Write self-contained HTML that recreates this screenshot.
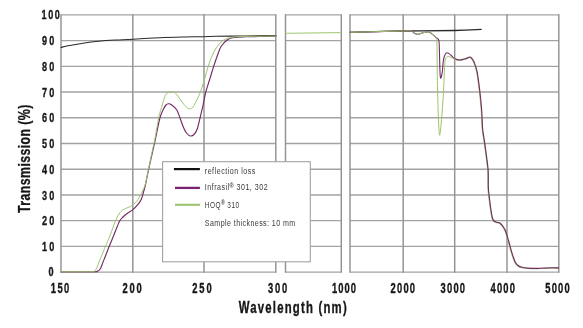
<!DOCTYPE html>
<html><head><meta charset="utf-8"><style>
html,body{margin:0;padding:0;background:#fff;}
svg{display:block;font-family:"Liberation Sans",sans-serif;will-change:transform;}
</style></head><body>
<svg width="583" height="328" viewBox="0 0 583 328">
<rect width="583" height="328" fill="#fff"/>
<line x1="61.00" y1="14.80" x2="275.80" y2="14.80" stroke="#a3a3a3" stroke-width="1.30"/>
<line x1="61.00" y1="40.54" x2="275.80" y2="40.54" stroke="#a3a3a3" stroke-width="1.30"/>
<line x1="61.00" y1="66.28" x2="275.80" y2="66.28" stroke="#a3a3a3" stroke-width="1.30"/>
<line x1="61.00" y1="92.02" x2="275.80" y2="92.02" stroke="#a3a3a3" stroke-width="1.30"/>
<line x1="61.00" y1="117.76" x2="275.80" y2="117.76" stroke="#a3a3a3" stroke-width="1.30"/>
<line x1="61.00" y1="143.50" x2="275.80" y2="143.50" stroke="#a3a3a3" stroke-width="1.30"/>
<line x1="61.00" y1="169.24" x2="275.80" y2="169.24" stroke="#a3a3a3" stroke-width="1.30"/>
<line x1="61.00" y1="194.98" x2="275.80" y2="194.98" stroke="#a3a3a3" stroke-width="1.30"/>
<line x1="61.00" y1="220.72" x2="275.80" y2="220.72" stroke="#a3a3a3" stroke-width="1.30"/>
<line x1="61.00" y1="246.46" x2="275.80" y2="246.46" stroke="#a3a3a3" stroke-width="1.30"/>
<line x1="61.00" y1="272.20" x2="275.80" y2="272.20" stroke="#a3a3a3" stroke-width="1.30"/>
<line x1="61.00" y1="14.20" x2="61.00" y2="272.80" stroke="#929292" stroke-width="1.45"/>
<line x1="132.80" y1="14.20" x2="132.80" y2="272.80" stroke="#929292" stroke-width="1.45"/>
<line x1="204.00" y1="14.20" x2="204.00" y2="272.80" stroke="#929292" stroke-width="1.45"/>
<line x1="275.80" y1="14.20" x2="275.80" y2="272.80" stroke="#929292" stroke-width="1.45"/>
<line x1="285.50" y1="14.80" x2="341.30" y2="14.80" stroke="#a3a3a3" stroke-width="1.30"/>
<line x1="285.50" y1="40.54" x2="341.30" y2="40.54" stroke="#a3a3a3" stroke-width="1.30"/>
<line x1="285.50" y1="66.28" x2="341.30" y2="66.28" stroke="#a3a3a3" stroke-width="1.30"/>
<line x1="285.50" y1="92.02" x2="341.30" y2="92.02" stroke="#a3a3a3" stroke-width="1.30"/>
<line x1="285.50" y1="117.76" x2="341.30" y2="117.76" stroke="#a3a3a3" stroke-width="1.30"/>
<line x1="285.50" y1="143.50" x2="341.30" y2="143.50" stroke="#a3a3a3" stroke-width="1.30"/>
<line x1="285.50" y1="169.24" x2="341.30" y2="169.24" stroke="#a3a3a3" stroke-width="1.30"/>
<line x1="285.50" y1="194.98" x2="341.30" y2="194.98" stroke="#a3a3a3" stroke-width="1.30"/>
<line x1="285.50" y1="220.72" x2="341.30" y2="220.72" stroke="#a3a3a3" stroke-width="1.30"/>
<line x1="285.50" y1="246.46" x2="341.30" y2="246.46" stroke="#a3a3a3" stroke-width="1.30"/>
<line x1="285.50" y1="272.20" x2="341.30" y2="272.20" stroke="#a3a3a3" stroke-width="1.30"/>
<line x1="285.50" y1="14.20" x2="285.50" y2="272.80" stroke="#929292" stroke-width="1.45"/>
<line x1="341.30" y1="14.20" x2="341.30" y2="272.80" stroke="#929292" stroke-width="1.45"/>
<line x1="350.00" y1="14.80" x2="558.80" y2="14.80" stroke="#a3a3a3" stroke-width="1.30"/>
<line x1="350.00" y1="40.54" x2="558.80" y2="40.54" stroke="#a3a3a3" stroke-width="1.30"/>
<line x1="350.00" y1="66.28" x2="558.80" y2="66.28" stroke="#a3a3a3" stroke-width="1.30"/>
<line x1="350.00" y1="92.02" x2="558.80" y2="92.02" stroke="#a3a3a3" stroke-width="1.30"/>
<line x1="350.00" y1="117.76" x2="558.80" y2="117.76" stroke="#a3a3a3" stroke-width="1.30"/>
<line x1="350.00" y1="143.50" x2="558.80" y2="143.50" stroke="#a3a3a3" stroke-width="1.30"/>
<line x1="350.00" y1="169.24" x2="558.80" y2="169.24" stroke="#a3a3a3" stroke-width="1.30"/>
<line x1="350.00" y1="194.98" x2="558.80" y2="194.98" stroke="#a3a3a3" stroke-width="1.30"/>
<line x1="350.00" y1="220.72" x2="558.80" y2="220.72" stroke="#a3a3a3" stroke-width="1.30"/>
<line x1="350.00" y1="246.46" x2="558.80" y2="246.46" stroke="#a3a3a3" stroke-width="1.30"/>
<line x1="350.00" y1="272.20" x2="558.80" y2="272.20" stroke="#a3a3a3" stroke-width="1.30"/>
<line x1="350.00" y1="14.20" x2="350.00" y2="272.80" stroke="#929292" stroke-width="1.45"/>
<line x1="403.20" y1="14.20" x2="403.20" y2="272.80" stroke="#929292" stroke-width="1.45"/>
<line x1="454.70" y1="14.20" x2="454.70" y2="272.80" stroke="#929292" stroke-width="1.45"/>
<line x1="507.00" y1="14.20" x2="507.00" y2="272.80" stroke="#929292" stroke-width="1.45"/>
<line x1="558.80" y1="14.20" x2="558.80" y2="272.80" stroke="#929292" stroke-width="1.45"/>
<path d="M61.00,47.40 C62.17,47.13 65.57,46.30 68.00,45.80 C70.43,45.30 72.60,44.92 75.60,44.40 C78.60,43.88 82.60,43.20 86.00,42.70 C89.40,42.20 92.67,41.77 96.00,41.40 C99.33,41.03 102.55,40.75 106.00,40.50 C109.45,40.25 112.20,40.12 116.70,39.90 C121.20,39.68 125.78,39.57 133.00,39.20 C140.22,38.83 151.83,38.07 160.00,37.70 C168.17,37.33 174.67,37.17 182.00,37.00 C189.33,36.83 198.33,36.82 204.00,36.70 C209.67,36.58 209.17,36.42 216.00,36.30 C222.83,36.18 236.83,36.12 245.00,36.00 C253.17,35.88 259.87,35.70 265.00,35.60 C270.13,35.50 274.00,35.43 275.80,35.40" fill="none" stroke="#2a2a2a" stroke-width="1.05" stroke-linejoin="round" stroke-linecap="round"/>
<path d="M350.00,32.30 C358.83,32.08 385.55,31.30 403.00,31.00 C420.45,30.70 441.67,30.78 454.70,30.50 C467.73,30.22 476.78,29.50 481.20,29.30" fill="none" stroke="#2a2a2a" stroke-width="1.30" stroke-linejoin="round" stroke-linecap="round"/>
<path d="M61.00,271.80 C66.50,271.80 88.07,271.85 94.00,271.80 C99.93,271.75 95.57,271.97 96.60,271.50 C97.63,271.03 99.08,270.68 100.20,269.00 C101.32,267.32 102.03,264.57 103.30,261.40 C104.57,258.23 106.85,252.45 107.80,250.00 C108.75,247.55 107.98,249.20 109.00,246.70 C110.02,244.20 112.17,239.20 113.90,235.00 C115.63,230.80 117.88,224.50 119.40,221.50 C120.92,218.50 121.73,218.30 123.00,217.00 C124.27,215.70 125.40,214.88 127.00,213.70 C128.60,212.52 130.77,211.47 132.60,209.90 C134.43,208.33 136.57,206.03 138.00,204.30 C139.43,202.57 140.30,201.47 141.20,199.50 C142.10,197.53 142.68,195.00 143.40,192.50 C144.12,190.00 144.62,188.42 145.50,184.50 C146.38,180.58 147.08,176.42 148.70,169.00 C150.32,161.58 153.32,148.57 155.20,140.00 C157.08,131.43 158.63,122.72 160.00,117.60 C161.37,112.48 162.40,111.40 163.40,109.30 C164.40,107.20 165.17,105.92 166.00,105.00 C166.83,104.08 167.57,103.88 168.40,103.80 C169.23,103.72 169.60,103.45 171.00,104.50 C172.40,105.55 174.72,106.27 176.80,110.10 C178.88,113.93 181.88,123.68 183.50,127.50 C185.12,131.32 185.35,131.58 186.50,133.00 C187.65,134.42 189.07,135.83 190.40,136.00 C191.73,136.17 193.33,135.25 194.50,134.00 C195.67,132.75 196.40,131.50 197.40,128.50 C198.40,125.50 199.55,119.92 200.50,116.00 C201.45,112.08 202.23,108.95 203.10,105.00 C203.97,101.05 204.58,96.63 205.70,92.30 C206.82,87.97 208.48,83.28 209.80,79.00 C211.12,74.72 212.33,70.52 213.60,66.60 C214.87,62.68 216.13,58.88 217.40,55.50 C218.67,52.12 219.52,48.93 221.20,46.30 C222.88,43.67 225.37,41.17 227.50,39.70 C229.63,38.23 231.08,37.98 234.00,37.50 C236.92,37.02 238.03,37.02 245.00,36.80 C251.97,36.58 270.67,36.30 275.80,36.20" fill="none" stroke="#742a64" stroke-width="1.15" stroke-linejoin="round" stroke-linecap="round"/>
<path d="M61.00,271.80 C66.00,271.80 85.58,271.85 91.00,271.80 C96.42,271.75 92.60,272.03 93.50,271.50 C94.40,270.97 95.28,270.63 96.40,268.60 C97.52,266.57 98.93,262.40 100.20,259.30 C101.47,256.20 103.15,252.10 104.00,250.00 C104.85,247.90 104.27,249.20 105.30,246.70 C106.33,244.20 108.53,239.20 110.20,235.00 C111.87,230.80 113.83,225.00 115.30,221.50 C116.77,218.00 117.75,215.93 119.00,214.00 C120.25,212.07 121.30,210.98 122.80,209.90 C124.30,208.82 126.37,208.30 128.00,207.50 C129.63,206.70 130.93,206.42 132.60,205.10 C134.27,203.78 136.27,202.13 138.00,199.60 C139.73,197.07 141.77,192.50 143.00,189.90 C144.23,187.30 144.50,187.40 145.40,184.00 C146.30,180.60 147.22,175.17 148.40,169.50 C149.58,163.83 151.40,155.17 152.50,150.00 C153.60,144.83 153.97,143.90 155.00,138.50 C156.03,133.10 157.50,123.18 158.70,117.60 C159.90,112.02 161.18,108.47 162.20,105.00 C163.22,101.53 164.00,98.80 164.80,96.80 C165.60,94.80 166.07,93.78 167.00,93.00 C167.93,92.22 169.20,92.22 170.40,92.10 C171.60,91.98 173.10,91.83 174.20,92.30 C175.30,92.77 176.02,93.75 177.00,94.90 C177.98,96.05 178.93,97.60 180.10,99.20 C181.27,100.80 182.73,103.00 184.00,104.50 C185.27,106.00 186.70,107.48 187.70,108.20 C188.70,108.92 189.12,109.00 190.00,108.80 C190.88,108.60 191.83,108.55 193.00,107.00 C194.17,105.45 195.78,101.95 197.00,99.50 C198.22,97.05 199.13,95.38 200.30,92.30 C201.47,89.22 202.68,85.28 204.00,81.00 C205.32,76.72 206.87,70.77 208.20,66.60 C209.53,62.43 210.63,59.13 212.00,56.00 C213.37,52.87 214.60,50.37 216.40,47.80 C218.20,45.23 220.48,42.30 222.80,40.60 C225.12,38.90 227.43,38.27 230.30,37.60 C233.17,36.93 235.05,36.83 240.00,36.60 C244.95,36.37 254.03,36.30 260.00,36.20 C265.97,36.10 273.17,36.03 275.80,36.00" fill="none" stroke="#9cc46e" stroke-width="1.00" stroke-linejoin="round" stroke-linecap="round"/>
<path d="M285.50,33.30 C294.80,33.18 332.00,32.72 341.30,32.60" fill="none" stroke="#9cc46e" stroke-width="1.00" stroke-linejoin="round" stroke-linecap="round"/>
<path d="M454.05,58.90 C454.87,59.15 457.12,60.35 458.95,60.40 C460.78,60.45 463.32,59.70 465.05,59.20 C466.78,58.70 468.27,57.45 469.35,57.40 C470.43,57.35 470.85,58.10 471.55,58.90 C472.25,59.70 472.70,60.02 473.55,62.20 C474.40,64.38 475.72,67.42 476.65,72.00 C477.58,76.58 478.40,83.50 479.15,89.70 C479.90,95.90 480.65,102.70 481.15,109.20 C481.65,115.70 481.75,123.83 482.15,128.70 C482.55,133.57 482.93,134.03 483.55,138.40 C484.17,142.77 485.15,149.40 485.85,154.90 C486.55,160.40 487.40,165.82 487.75,171.40 C488.10,176.98 487.68,183.40 487.95,188.40 C488.22,193.40 488.87,197.40 489.35,201.40 C489.83,205.40 490.40,209.57 490.85,212.40 C491.30,215.23 491.60,216.90 492.05,218.40 C492.50,219.90 492.80,220.70 493.55,221.40 C494.30,222.10 495.52,222.23 496.55,222.60 C497.58,222.97 498.75,222.92 499.75,223.60 C500.75,224.28 501.63,225.37 502.55,226.70 C503.47,228.03 504.33,229.23 505.25,231.60 C506.17,233.97 507.13,237.70 508.05,240.90 C508.97,244.10 509.92,247.97 510.75,250.80 C511.58,253.63 512.33,255.88 513.05,257.90 C513.77,259.92 514.22,261.52 515.05,262.90 C515.88,264.28 516.93,265.40 518.05,266.20 C519.17,267.00 520.17,267.32 521.75,267.70 C523.33,268.08 525.27,268.32 527.55,268.50 C529.83,268.68 532.78,268.82 535.45,268.80 C538.12,268.78 540.80,268.52 543.55,268.40 C546.30,268.28 549.52,268.12 551.95,268.10 C554.38,268.08 557.12,268.27 558.15,268.30" fill="none" stroke="#9cc46e" stroke-width="1.10" stroke-linejoin="round" stroke-linecap="round"/>
<path d="M350.00,32.30 C358.83,32.08 392.80,31.23 403.00,31.00 C413.20,30.77 409.45,30.65 411.20,30.90 C412.95,31.15 412.78,32.02 413.50,32.50 C414.22,32.98 414.75,33.50 415.50,33.80 C416.25,34.10 416.92,34.43 418.00,34.30 C419.08,34.17 420.67,33.35 422.00,33.00 C423.33,32.65 424.78,32.37 426.00,32.20 C427.22,32.03 428.38,31.77 429.30,32.00 C430.22,32.23 430.72,33.00 431.50,33.60 C432.28,34.20 433.08,34.83 434.00,35.60 C434.92,36.37 436.20,37.43 437.00,38.20 C437.80,38.97 438.42,38.90 438.80,40.20 C439.18,41.50 439.17,43.03 439.30,46.00 C439.43,48.97 439.48,53.67 439.60,58.00 C439.72,62.33 439.85,68.67 440.00,72.00 C440.15,75.33 440.25,77.33 440.50,78.00 C440.75,78.67 441.20,77.00 441.50,76.00 C441.80,75.00 442.02,74.33 442.30,72.00 C442.58,69.67 442.87,64.58 443.20,62.00 C443.53,59.42 443.88,57.92 444.30,56.50 C444.72,55.08 445.22,54.13 445.70,53.50 C446.18,52.87 446.65,52.68 447.20,52.70 C447.75,52.72 448.38,53.20 449.00,53.60 C449.62,54.00 449.98,54.28 450.90,55.10 C451.82,55.92 453.08,57.68 454.50,58.50 C455.92,59.32 457.57,59.95 459.40,60.00 C461.23,60.05 463.77,59.30 465.50,58.80 C467.23,58.30 468.72,57.05 469.80,57.00 C470.88,56.95 471.30,57.70 472.00,58.50 C472.70,59.30 473.15,59.62 474.00,61.80 C474.85,63.98 476.17,67.02 477.10,71.60 C478.03,76.18 478.85,83.10 479.60,89.30 C480.35,95.50 481.10,102.30 481.60,108.80 C482.10,115.30 482.20,123.43 482.60,128.30 C483.00,133.17 483.38,133.63 484.00,138.00 C484.62,142.37 485.60,149.00 486.30,154.50 C487.00,160.00 487.85,165.42 488.20,171.00 C488.55,176.58 488.13,183.00 488.40,188.00 C488.67,193.00 489.32,197.00 489.80,201.00 C490.28,205.00 490.85,209.17 491.30,212.00 C491.75,214.83 492.05,216.50 492.50,218.00 C492.95,219.50 493.25,220.30 494.00,221.00 C494.75,221.70 495.97,221.83 497.00,222.20 C498.03,222.57 499.20,222.52 500.20,223.20 C501.20,223.88 502.08,224.97 503.00,226.30 C503.92,227.63 504.78,228.83 505.70,231.20 C506.62,233.57 507.58,237.30 508.50,240.50 C509.42,243.70 510.37,247.57 511.20,250.40 C512.03,253.23 512.78,255.48 513.50,257.50 C514.22,259.52 514.67,261.12 515.50,262.50 C516.33,263.88 517.38,265.00 518.50,265.80 C519.62,266.60 520.62,266.92 522.20,267.30 C523.78,267.68 525.72,267.92 528.00,268.10 C530.28,268.28 533.23,268.42 535.90,268.40 C538.57,268.38 541.25,268.12 544.00,268.00 C546.75,267.88 549.97,267.72 552.40,267.70 C554.83,267.68 557.57,267.87 558.60,267.90" fill="none" stroke="#742a64" stroke-width="1.10" stroke-linejoin="round" stroke-linecap="round"/>
<path d="M350.00,32.30 C358.83,32.08 392.80,31.23 403.00,31.00 C413.20,30.77 409.45,30.65 411.20,30.90 C412.95,31.15 412.78,32.02 413.50,32.50 C414.22,32.98 414.75,33.50 415.50,33.80 C416.25,34.10 416.92,34.43 418.00,34.30 C419.08,34.17 420.67,33.35 422.00,33.00 C423.33,32.65 424.78,32.37 426.00,32.20 C427.22,32.03 428.38,31.77 429.30,32.00 C430.22,32.23 430.72,33.00 431.50,33.60 C432.28,34.20 433.22,34.93 434.00,35.60 C434.78,36.27 435.72,36.53 436.20,37.60 C436.68,38.67 436.73,36.60 436.90,42.00 C437.07,47.40 437.08,62.00 437.20,70.00 C437.32,78.00 437.45,83.33 437.60,90.00 C437.75,96.67 437.92,104.17 438.10,110.00 C438.28,115.83 438.47,120.80 438.70,125.00 C438.93,129.20 439.18,134.53 439.50,135.20 C439.82,135.87 440.22,132.20 440.60,129.00 C440.98,125.80 441.42,120.50 441.80,116.00 C442.18,111.50 442.58,106.67 442.90,102.00 C443.22,97.33 443.48,92.50 443.70,88.00 C443.92,83.50 444.05,78.67 444.20,75.00 C444.35,71.33 444.42,68.50 444.60,66.00 C444.78,63.50 445.00,61.45 445.30,60.00 C445.60,58.55 445.92,57.90 446.40,57.30 C446.88,56.70 447.43,56.40 448.20,56.40 C448.97,56.40 450.15,56.93 451.00,57.30 C451.85,57.67 452.63,58.28 453.30,58.60 C453.97,58.92 454.72,59.10 455.00,59.20" fill="none" stroke="#9cc46e" stroke-width="1.00" stroke-linejoin="round" stroke-linecap="round"/>
<rect x="162.60" y="161.70" width="147.70" height="100.10" fill="#fff" stroke="#a3a3a3" stroke-width="1.1"/>
<line x1="173.90" y1="169.10" x2="199.90" y2="169.10" stroke="#111" stroke-width="2.20"/>
<line x1="175.00" y1="187.90" x2="199.90" y2="187.90" stroke="#7c2270" stroke-width="2.30"/>
<line x1="175.00" y1="204.80" x2="199.90" y2="204.80" stroke="#9cc46e" stroke-width="2.10"/>
<text transform="translate(204.80,173.80) scale(0.740,1)" x="0" y="0" font-size="9.60" font-weight="normal" fill="#3a3a3a" textLength="68.24" lengthAdjust="spacing">reflection loss</text>
<text transform="translate(204.80,190.40) scale(0.740,1)" x="0" y="0" font-size="9.60" font-weight="normal" fill="#3a3a3a" textLength="84.86" lengthAdjust="spacing">Infrasil<tspan font-size="7.5" font-weight="bold" dy="-2.6">®</tspan><tspan dy="2.6"> 301, 302</tspan></text>
<text transform="translate(204.80,207.90) scale(0.680,1)" x="0" y="0" font-size="9.60" font-weight="normal" fill="#3a3a3a" textLength="50.44" lengthAdjust="spacing">HOQ<tspan font-size="7.5" font-weight="bold" dy="-3">®</tspan><tspan dy="3"> 310</tspan></text>
<text transform="translate(204.80,226.30) scale(0.740,1)" x="0" y="0" font-size="9.60" font-weight="normal" fill="#3a3a3a" textLength="122.16" lengthAdjust="spacing">Sample thickness: 10 mm</text>
<text transform="translate(41.60,19.40) scale(0.680,1)" x="0" y="0" font-size="13.40" font-weight="bold" fill="#161616" stroke="#161616" stroke-width="0.35" textLength="26.91" lengthAdjust="spacing">100</text>
<text transform="translate(41.90,45.14) scale(0.680,1)" x="0" y="0" font-size="13.40" font-weight="bold" fill="#161616" stroke="#161616" stroke-width="0.35" textLength="18.38" lengthAdjust="spacing">90</text>
<text transform="translate(41.90,70.88) scale(0.680,1)" x="0" y="0" font-size="13.40" font-weight="bold" fill="#161616" stroke="#161616" stroke-width="0.35" textLength="18.38" lengthAdjust="spacing">80</text>
<text transform="translate(41.90,96.62) scale(0.680,1)" x="0" y="0" font-size="13.40" font-weight="bold" fill="#161616" stroke="#161616" stroke-width="0.35" textLength="18.38" lengthAdjust="spacing">70</text>
<text transform="translate(41.90,122.36) scale(0.680,1)" x="0" y="0" font-size="13.40" font-weight="bold" fill="#161616" stroke="#161616" stroke-width="0.35" textLength="18.38" lengthAdjust="spacing">60</text>
<text transform="translate(41.90,148.10) scale(0.680,1)" x="0" y="0" font-size="13.40" font-weight="bold" fill="#161616" stroke="#161616" stroke-width="0.35" textLength="18.38" lengthAdjust="spacing">50</text>
<text transform="translate(41.90,173.84) scale(0.680,1)" x="0" y="0" font-size="13.40" font-weight="bold" fill="#161616" stroke="#161616" stroke-width="0.35" textLength="18.38" lengthAdjust="spacing">40</text>
<text transform="translate(41.90,199.58) scale(0.680,1)" x="0" y="0" font-size="13.40" font-weight="bold" fill="#161616" stroke="#161616" stroke-width="0.35" textLength="18.38" lengthAdjust="spacing">30</text>
<text transform="translate(41.90,225.32) scale(0.680,1)" x="0" y="0" font-size="13.40" font-weight="bold" fill="#161616" stroke="#161616" stroke-width="0.35" textLength="18.38" lengthAdjust="spacing">20</text>
<text transform="translate(41.90,251.06) scale(0.680,1)" x="0" y="0" font-size="13.40" font-weight="bold" fill="#161616" stroke="#161616" stroke-width="0.35" textLength="18.38" lengthAdjust="spacing">10</text>
<text transform="translate(48.40,275.70) scale(0.680,1)" x="0" y="0" font-size="13.40" font-weight="bold" fill="#161616" stroke="#161616" stroke-width="0.35" textLength="6.91" lengthAdjust="spacing">0</text>
<text transform="translate(50.80,292.90) scale(0.680,1)" x="0" y="0" font-size="13.80" font-weight="bold" fill="#161616" stroke="#161616" stroke-width="0.35" textLength="27.06" lengthAdjust="spacing">150</text>
<text transform="translate(122.40,292.90) scale(0.680,1)" x="0" y="0" font-size="13.80" font-weight="bold" fill="#161616" stroke="#161616" stroke-width="0.35" textLength="28.24" lengthAdjust="spacing">200</text>
<text transform="translate(192.30,292.90) scale(0.680,1)" x="0" y="0" font-size="13.80" font-weight="bold" fill="#161616" stroke="#161616" stroke-width="0.35" textLength="28.38" lengthAdjust="spacing">250</text>
<text transform="translate(268.00,292.90) scale(0.680,1)" x="0" y="0" font-size="13.80" font-weight="bold" fill="#161616" stroke="#161616" stroke-width="0.35" textLength="28.24" lengthAdjust="spacing">300</text>
<text transform="translate(331.90,292.90) scale(0.680,1)" x="0" y="0" font-size="13.80" font-weight="bold" fill="#161616" stroke="#161616" stroke-width="0.35" textLength="35.59" lengthAdjust="spacing">1000</text>
<text transform="translate(390.60,292.90) scale(0.680,1)" x="0" y="0" font-size="13.80" font-weight="bold" fill="#161616" stroke="#161616" stroke-width="0.35" textLength="36.03" lengthAdjust="spacing">2000</text>
<text transform="translate(440.40,292.90) scale(0.680,1)" x="0" y="0" font-size="13.80" font-weight="bold" fill="#161616" stroke="#161616" stroke-width="0.35" textLength="36.32" lengthAdjust="spacing">3000</text>
<text transform="translate(490.60,292.90) scale(0.680,1)" x="0" y="0" font-size="13.80" font-weight="bold" fill="#161616" stroke="#161616" stroke-width="0.35" textLength="35.74" lengthAdjust="spacing">4000</text>
<text transform="translate(545.20,292.90) scale(0.680,1)" x="0" y="0" font-size="13.80" font-weight="bold" fill="#161616" stroke="#161616" stroke-width="0.35" textLength="36.18" lengthAdjust="spacing">5000</text>
<text transform="translate(238.70,312.90) scale(0.720,1)" x="0" y="0" font-size="15.80" font-weight="bold" fill="#161616" stroke="#161616" stroke-width="0.35" textLength="150.00" lengthAdjust="spacing">Wavelength (nm)</text>
<g transform="translate(30.3,213) rotate(-90)"><text transform="translate(0.00,0.00) scale(0.760,1)" x="0" y="0" font-size="16.30" font-weight="bold" fill="#161616" stroke="#161616" stroke-width="0.30" textLength="142.63" lengthAdjust="spacing">Transmission (%)</text></g>
</svg></body></html>
